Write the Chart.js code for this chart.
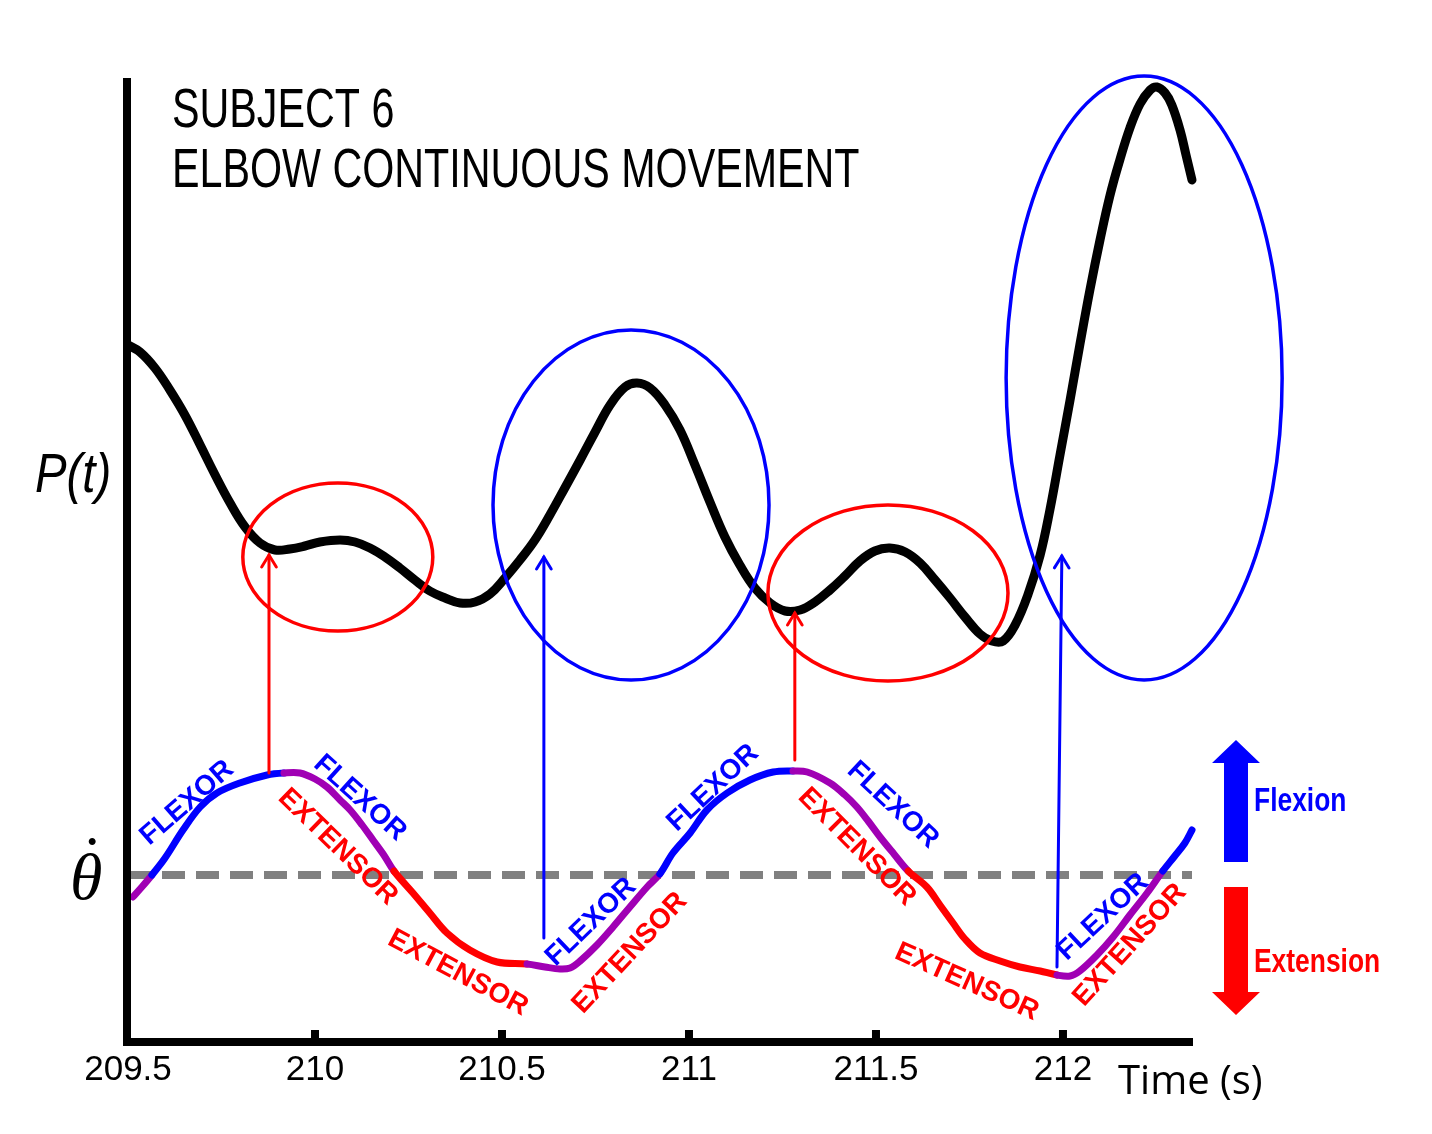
<!DOCTYPE html>
<html><head><meta charset="utf-8">
<script src="https://cdn.jsdelivr.net/npm/chart.js@4.4.0/dist/chart.umd.min.js"></script>
<style>html,body{margin:0;padding:0;background:#fff;} #wrap{width:1432px;height:1134px;position:relative;}</style>
</head><body><div id="wrap"><canvas id="c"></canvas></div>
<script>
// ---------- DATA ----------
const timeTicks = [209.5, 210, 210.5, 211, 211.5, 212];
const tickLabels = ['209.5', '210', '210.5', '211', '211.5', '212'];

// P(t) (arbitrary units)
const pTime = [209.500,209.532,209.572,209.612,209.652,209.693,209.733,209.773,209.813,209.853,209.893,209.933,209.973,210.013,210.067,210.107,210.147,210.187,210.227,210.267,210.307,210.348,210.388,210.428,210.468,210.508,210.548,210.588,210.628,210.668,210.709,210.749,210.789,210.829,210.861,210.896,210.936,210.976,211.016,211.056,211.096,211.136,211.176,211.217,211.257,211.297,211.337,211.377,211.417,211.457,211.497,211.537,211.578,211.618,211.658,211.698,211.738,211.778,211.810,211.840,211.872,211.906,211.939,211.965,211.992,212.019,212.045,212.072,212.099,212.126,212.152,212.179,212.206,212.233,212.251,212.273,212.291,212.313,212.329,212.345];
const pValues = [69.7,69.0,67.4,65.2,62.7,59.7,56.7,53.9,51.5,49.9,49.2,49.3,49.6,50.0,50.2,50.0,49.4,48.5,47.4,46.2,45.1,44.4,43.9,44.0,44.8,46.4,48.2,50.2,52.7,55.4,58.2,61.0,63.7,65.5,65.9,65.4,63.7,61.2,57.7,54.0,50.5,47.7,45.4,43.9,43.1,43.2,44.0,45.2,46.6,48.1,49.1,49.4,49.0,47.9,46.2,44.4,42.5,40.8,40.1,40.1,41.7,44.7,48.7,53.2,58.7,64.2,69.7,75.2,80.2,84.7,88.2,91.4,93.8,95.2,95.5,94.9,93.7,91.2,88.7,86.2];

// angular velocity theta-dot (arbitrary units, 0 = dashed line)
const vTime = [209.513,209.537,209.564,209.599,209.647,209.693,209.738,209.799,209.872,209.917,209.960,210.000,210.032,210.067,210.094,210.126,210.155,210.184,210.211,210.262,210.307,210.353,210.414,210.487,210.567,210.615,210.655,210.682,210.709,210.754,210.797,210.842,210.888,210.922,210.957,211.003,211.048,211.102,211.163,211.225,211.278,211.316,211.377,211.417,211.449,211.479,211.511,211.548,211.586,211.636,211.671,211.706,211.738,211.778,211.832,211.885,211.939,211.984,212.019,212.045,212.091,212.134,212.179,212.225,212.267,212.299,212.326,212.345];
const vValues = [-2.2,-1.2,0.0,1.7,4.5,6.8,8.2,9.2,10.0,10.2,10.2,9.6,8.8,7.5,6.5,5.0,3.5,2.0,0.4,-1.8,-3.8,-5.8,-7.5,-8.7,-8.9,-9.2,-9.4,-9.3,-8.6,-7.0,-5.2,-3.2,-1.2,0.1,2.2,4.2,6.5,8.2,9.5,10.3,10.4,10.3,9.2,8.0,6.8,5.4,3.8,2.1,0.4,-1.2,-3.0,-4.8,-6.4,-7.8,-8.6,-9.2,-9.6,-10.0,-10.1,-9.6,-8.0,-6.2,-4.0,-1.8,0.4,1.9,3.2,4.5];

// muscle phases along theta-dot
const phaseStart = [209.5, 209.564, 209.917, 210.211, 210.567, 210.922, 211.278, 211.586, 211.984, 212.267];
const phaseMuscle = ['both','flexor','both','extensor','both','flexor','both','extensor','both','flexor'];
const muscleColor = {flexor:'#0000FF', extensor:'#FF0000', both:'#A000B4'};

// ellipses (P axis units)
const ellipseCx = [210.061, 210.845, 211.532, 212.217];
const ellipseCy = [48.5, 53.7, 44.9, 66.4];
const ellipseRx = [0.254, 0.369, 0.321, 0.369];
const ellipseRy = [7.4, 17.5, 8.8, 30.2];
const ellipseColor = ['#FF0000', '#0000FF', '#FF0000', '#0000FF'];

// arrows (P axis units)
const arrowX0 = [209.877, 210.612, 211.283, 211.984];
const arrowY0 = [26.9, 10.4, 28.2, 7.5];
const arrowX1 = [209.877, 210.612, 211.283, 211.997];
const arrowY1 = [48.7, 48.5, 42.9, 48.6];
const arrowColor = ['#FF0000', '#0000FF', '#FF0000', '#0000FF'];

// muscle labels along the theta-dot curve (theta-dot axis units)
const labelText = ['FLEXOR','FLEXOR','EXTENSOR','EXTENSOR','FLEXOR','EXTENSOR','FLEXOR','FLEXOR','EXTENSOR','EXTENSOR','FLEXOR','EXTENSOR'];
const labelX = [209.658, 210.120, 210.061, 210.382, 210.738, 210.842, 211.064, 211.545, 211.449, 211.743, 212.107, 212.179];
const labelY = [7.2, 7.7, 2.8, -9.8, -4.7, -7.8, 8.7, 7.0, 2.8, -10.7, -4.2, -7.0];
const labelAngle = [-41, 42, 44, 28, -44, -47, -43, 43, 45, 24, -43, -48];

// direction legend (theta-dot axis units)
const flexArrow = {tip: 13.5, base: 11.2, tail: 1.3};
const extArrow = {tip: -14.0, base: -11.7, tail: -1.2};

// ---------- HELPERS ----------
function muscleAt(x) {
  let m = phaseMuscle[0];
  for (let i = 0; i < phaseStart.length; i++) if (x >= phaseStart[i] - 1e-9) m = phaseMuscle[i];
  return m;
}
function labelColor(t) { return t === 'FLEXOR' ? muscleColor.flexor : muscleColor.extensor; }
function sText(ctx, text, x, y, font, color, sx, align) {
  ctx.save();
  ctx.font = font; ctx.fillStyle = color; ctx.textBaseline = 'alphabetic'; ctx.textAlign = align || 'left';
  ctx.translate(x, y); ctx.scale(sx, 1); ctx.fillText(text, 0, 0);
  ctx.restore();
}
// draw text so that its ink centre sits at (cx, cy)
function inkCenteredText(ctx, text, cx, cy, font, color) {
  ctx.save();
  ctx.font = font; ctx.fillStyle = color; ctx.textAlign = 'left'; ctx.textBaseline = 'alphabetic';
  const m = ctx.measureText(text);
  const w = m.actualBoundingBoxRight + m.actualBoundingBoxLeft;
  const h = m.actualBoundingBoxAscent + m.actualBoundingBoxDescent;
  const x = cx - w / 2 + m.actualBoundingBoxLeft;
  const y = cy + h / 2 - m.actualBoundingBoxDescent;
  ctx.fillText(text, x, y);
  ctx.restore();
}

const annot = {
  id: 'annot',
  afterDraw(chart) {
    const ctx = chart.ctx, xs = chart.scales.x, yP = chart.scales.yP, yV = chart.scales.yV, ca = chart.chartArea;
    ctx.save();
    // axes
    ctx.fillStyle = '#000';
    ctx.fillRect(ca.left - 5, ca.top, 8, ca.bottom - ca.top + 4);
    ctx.fillRect(ca.left - 5, ca.bottom - 4, ca.right - ca.left + 6, 8);
    xs.ticks.forEach((t, i) => {
      if (i === 0) return;
      const px = xs.getPixelForValue(t.value);
      ctx.fillRect(px - 4, ca.bottom - 12, 8, 9);
    });
    // ellipses
    ctx.lineWidth = 3.5;
    for (let i = 0; i < ellipseCx.length; i++) {
      const cx = xs.getPixelForValue(ellipseCx[i]), cy = yP.getPixelForValue(ellipseCy[i]);
      const rx = xs.getPixelForValue(ellipseCx[i] + ellipseRx[i]) - cx;
      const ry = cy - yP.getPixelForValue(ellipseCy[i] + ellipseRy[i]);
      ctx.strokeStyle = ellipseColor[i];
      ctx.beginPath(); ctx.ellipse(cx, cy, rx, ry, 0, 0, Math.PI * 2); ctx.stroke();
    }
    // arrows
    for (let i = 0; i < arrowX0.length; i++) {
      const x0 = xs.getPixelForValue(arrowX0[i]), y0 = yP.getPixelForValue(arrowY0[i]);
      const x1 = xs.getPixelForValue(arrowX1[i]), y1 = yP.getPixelForValue(arrowY1[i]);
      ctx.strokeStyle = arrowColor[i]; ctx.lineWidth = 3; ctx.lineCap = 'round';
      ctx.beginPath(); ctx.moveTo(x0, y0); ctx.lineTo(x1, y1); ctx.stroke();
      const a = Math.atan2(y1 - y0, x1 - x0), L = 14, w = 0.55;
      ctx.beginPath();
      ctx.moveTo(x1 - L * Math.cos(a - w), y1 - L * Math.sin(a - w));
      ctx.lineTo(x1, y1);
      ctx.lineTo(x1 - L * Math.cos(a + w), y1 - L * Math.sin(a + w));
      ctx.stroke();
    }
    // muscle labels
    for (let i = 0; i < labelText.length; i++) {
      const px = xs.getPixelForValue(labelX[i]), py = yV.getPixelForValue(labelY[i]);
      ctx.save();
      ctx.translate(px, py); ctx.rotate(labelAngle[i] * Math.PI / 180);
      ctx.font = 'bold 28px "Liberation Sans", Arial, sans-serif';
      ctx.fillStyle = labelColor(labelText[i]);
      ctx.textAlign = 'center'; ctx.textBaseline = 'middle';
      ctx.fillText(labelText[i], 0, 0);
      ctx.restore();
    }
    // direction legend arrows
    const ax = ca.right + 44;
    function bigArrow(spec, color) {
      const tip = yV.getPixelForValue(spec.tip), base = yV.getPixelForValue(spec.base), tail = yV.getPixelForValue(spec.tail);
      ctx.fillStyle = color;
      ctx.beginPath();
      ctx.moveTo(ax - 12, tail); ctx.lineTo(ax - 12, base); ctx.lineTo(ax - 24, base);
      ctx.lineTo(ax, tip); ctx.lineTo(ax + 24, base); ctx.lineTo(ax + 12, base); ctx.lineTo(ax + 12, tail);
      ctx.closePath(); ctx.fill();
    }
    bigArrow(flexArrow, '#0000FF');
    bigArrow(extArrow, '#FF0000');
    sText(ctx, 'Flexion', ca.right + 62, yV.getPixelForValue(6.4), 'bold 33px "Liberation Sans", Arial, sans-serif', '#0000FF', 0.8);
    sText(ctx, 'Extension', ca.right + 62, yV.getPixelForValue(-9.7), 'bold 33px "Liberation Sans", Arial, sans-serif', '#FF0000', 0.8);
    // title
    sText(ctx, 'SUBJECT 6', 172, 127, '55px "Liberation Sans", Arial, sans-serif', '#000', 0.75);
    sText(ctx, 'ELBOW CONTINUOUS MOVEMENT', 172, 187, '55px "Liberation Sans", Arial, sans-serif', '#000', 0.75);
    // axis names
    sText(ctx, 'P(t)', 35, 492, 'italic 55px "Liberation Sans", Arial, sans-serif', '#000', 0.86);
    inkCenteredText(ctx, 'θ', 87, 876, 'italic 66px "Liberation Serif", "DejaVu Serif", serif', '#000');
    inkCenteredText(ctx, '˙', 92, 841, 'italic 66px "Liberation Serif", "DejaVu Serif", serif', '#000');
    sText(ctx, 'Time (s)', 1118, 1094, '40px "Open Sans", sans-serif', '#000', 1);
    ctx.restore();
  }
};

new Chart(document.getElementById('c'), {
  type: 'scatter',
  data: {
    datasets: [
      {
        label: 'θ̇',
        data: vTime.map((t, i) => ({x: t, y: vValues[i]})),
        yAxisID: 'yV', showLine: true, pointRadius: 0, borderWidth: 7, tension: 0.35,
        borderColor: muscleColor.flexor, borderJoinStyle: 'round', borderCapStyle: 'round',
        segment: { borderColor: c => muscleColor[muscleAt(c.p0.parsed.x)] },
        order: 1, clip: false
      },
      {
        label: 'zero',
        data: [{x: timeTicks[0], y: 0}, {x: 212.345, y: 0}],
        yAxisID: 'yV', showLine: true, pointRadius: 0, borderWidth: 8,
        borderColor: '#808080', borderDash: [23, 11], order: 2, clip: false
      },
      {
        label: 'P(t)',
        data: pTime.map((t, i) => ({x: t, y: pValues[i]})),
        yAxisID: 'yP', showLine: true, pointRadius: 0, borderWidth: 9, tension: 0.4,
        borderColor: '#000', borderJoinStyle: 'round', borderCapStyle: 'round', order: 0, clip: false
      }
    ]
  },
  options: {
    responsive: true, maintainAspectRatio: false, animation: false, events: [],
    layout: { padding: { left: 128, right: 240, top: 78, bottom: 46 } },
    plugins: { legend: { display: false }, tooltip: { enabled: false }, title: { display: false } },
    scales: {
      x: {
        type: 'linear', position: 'bottom', min: 209.5, max: 212.345,
        grid: { display: false, drawTicks: false }, border: { display: false },
        afterBuildTicks: s => { s.ticks = timeTicks.map(v => ({value: v})); },
        afterFit: s => { s.height = 46; },
        ticks: {
          autoSkip: false, maxRotation: 0, padding: 7, color: '#000',
          font: { family: '"Liberation Sans", Arial, sans-serif', size: 35 },
          callback: (v, i) => tickLabels[i]
        }
      },
      yP: { type: 'linear', display: false, min: 0, max: 96.4 },
      yV: { type: 'linear', display: false, min: -16.7, max: 79.7 }
    }
  },
  plugins: [annot]
});
</script>
</body></html>
